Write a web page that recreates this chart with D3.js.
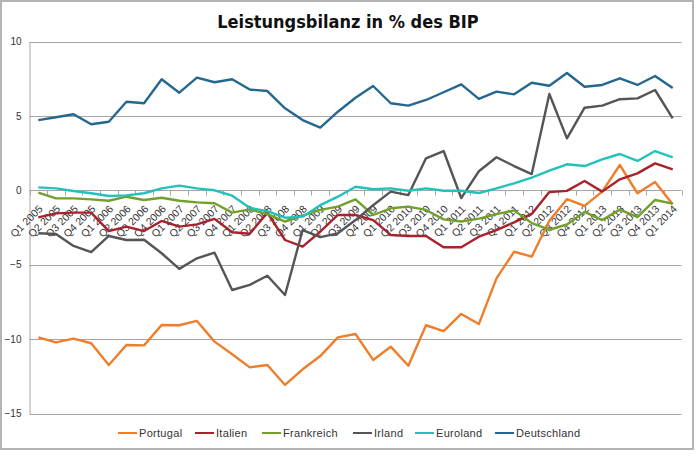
<!DOCTYPE html>
<html>
<head>
<meta charset="utf-8">
<script src="https://cdn.jsdelivr.net/npm/d3@7"></script>
<style>
  html, body { margin: 0; padding: 0; background: #fff; }
  svg { display: block; }
</style>
</head>
<body>
<svg id="chart" width="700" height="456"></svg>
<script>
const title = "Leistungsbilanz in % des BIP";
const categories = [
  "Q1 2005","Q2 2005","Q3 2005","Q4 2005",
  "Q1 2006","Q2 2006","Q3 2006","Q4 2006",
  "Q1 2007","Q2 2007","Q3 2007","Q4 2007",
  "Q1 2008","Q2 2008","Q3 2008","Q4 2008",
  "Q1 2009","Q2 2009","Q3 2009","Q4 2009",
  "Q1 2010","Q2 2010","Q3 2010","Q4 2010",
  "Q1 2011","Q2 2011","Q3 2011","Q4 2011",
  "Q1 2012","Q2 2012","Q3 2012","Q4 2012",
  "Q1 2013","Q2 2013","Q3 2013","Q4 2013",
  "Q1 2014"
];
const yTicks = [10, 5, 0, -5, -10, -15];
const seriesNames = ["Portugal", "Italien", "Frankreich", "Irland", "Euroland", "Deutschland"];
const seriesColors = ["#EE7E2C", "#A8222B", "#73A02A", "#555555", "#22C2BB", "#24678F"];

const portugal = [-9.88,-10.22,-9.97,-10.28,-11.74,-10.40,-10.42,-9.05,-9.07,-8.78,-10.17,-11.02,-11.90,-11.74,-13.08,-12.03,-11.14,-9.88,
  -9.66,-11.40,-10.51,-11.79,-9.07,-9.46,-8.31,-8.99,-5.92,-4.13,-4.46,
  -2.05,-0.60,-1.05,-0.09,1.70,-0.20,0.56,-0.93];
const italien = [-1.82,-1.55,-1.50,-1.50,-2.74,-2.44,-2.74,-2.06,-2.44,-2.29,-1.92,-2.82,-2.92,
  -1.50,-3.34,-3.79,-2.78,-1.66,-1.66,-2.00,-3.00,-3.07,-3.07,-3.83,-3.83,
  -3.12,-2.67,-2.15,-1.59,-0.12,-0.04,0.62,-0.09,0.74,1.14,1.81,1.41];
const frankreich = [-0.16,-0.54,-0.54,-0.61,-0.70,-0.43,-0.65,-0.50,-0.70,-0.81,-0.87,-1.50,-1.28,
  -1.60,-2.10,-1.70,-1.32,-1.10,-0.61,-1.66,-1.21,-1.10,-1.32,-1.95,-2.10,
  -1.90,-1.60,-1.35,-2.20,-2.65,-2.30,-1.45,-2.00,-1.30,-1.80,-0.65,-0.90];
const irland = [-2.89,-2.94,-3.74,-4.15,-3.07,-3.34,-3.32,-4.23,-5.28,-4.57,-4.19,-6.70,-6.36,-5.74,-7.04,
  -2.67,-3.15,-2.89,-2.00,-1.00,-0.09,-0.32,2.15,2.64,-0.52,
  1.28,2.22,1.63,1.09,6.47,3.49,5.55,5.69,6.12,6.18,6.74,4.84];
const euroland = [0.20,0.13,-0.05,-0.20,-0.38,-0.34,-0.20,0.13,0.31,0.13,0.00,-0.36,-1.18,
  -1.40,-1.84,-1.77,-1.00,-0.43,0.24,0.07,0.13,-0.03,0.13,-0.03,-0.03,
  -0.18,0.13,0.47,0.85,1.32,1.75,1.63,2.08,2.44,1.97,2.64,2.22];
const deutschland = [4.72,4.91,5.11,4.44,4.61,5.95,5.85,7.46,6.56,7.57,7.26,7.46,6.77,
  6.67,5.51,4.72,4.21,5.28,6.22,7.01,5.85,5.69,6.07,6.59,7.12,
  6.14,6.63,6.45,7.23,7.03,7.88,6.96,7.08,7.53,7.08,7.68,6.88];

const seriesValues = [portugal, italien, frankreich, irland, euroland, deutschland];

const svg = d3.select("#chart");
const plot = { left: 29.5, right: 681.5, top: 41.5, bottom: 413.5 };

// outer frame
svg.append("rect")
  .attr("x", 1).attr("y", 1).attr("width", 692).attr("height", 448)
  .attr("fill", "#fff").attr("stroke", "#b4b4b4").attr("stroke-width", 2);

// title
svg.append("text")
  .attr("x", 348).attr("y", 28)
  .attr("text-anchor", "middle")
  .attr("font-family", "'Liberation Sans Narrow', 'DejaVu Sans Condensed', 'Liberation Sans', sans-serif")
  .attr("font-weight", "bold")
  .attr("font-size", 18)
  .attr("fill", "#111")
  .text(title);

const x = d3.scaleBand().domain(categories).range([plot.left, plot.right]).paddingInner(0).paddingOuter(0);
const y = d3.scaleLinear().domain([-15, 10]).range([plot.bottom, plot.top]);
const cx = d => x(d) + x.bandwidth() / 2;

// gridlines
svg.append("g")
  .selectAll("line").data(yTicks).join("line")
  .attr("x1", plot.left).attr("x2", plot.right)
  .attr("y1", d => Math.round(y(d)) + 0.5).attr("y2", d => Math.round(y(d)) + 0.5)
  .attr("stroke", "#a6a6a6").attr("stroke-width", 1);

// y axis
const yAxis = d3.axisLeft(y).tickValues(yTicks).tickSize(0).tickPadding(8).tickFormat(d3.format("d"));
const gy = svg.append("g").attr("transform", `translate(${plot.left},0)`).call(yAxis);
gy.select(".domain").attr("stroke", "#a6a6a6");
gy.selectAll("text")
  .attr("font-family", "'Liberation Sans', Arial, sans-serif")
  .attr("font-size", 10).attr("fill", "#333");

// x axis at zero
const y0 = Math.round(y(0)) + 0.5;
const xAxis = d3.axisBottom(x).tickSize(0).tickFormat(d => d);
const gx = svg.append("g").attr("transform", `translate(0,${y0})`).call(xAxis);
gx.select(".domain").remove();
gx.selectAll(".tick text")
  .attr("font-family", "'Liberation Sans', Arial, sans-serif")
  .attr("font-size", 10.5).attr("fill", "#333")
  .attr("text-anchor", "end")
  .attr("dy", 0).attr("y", 0)
  .attr("transform", "translate(5,19) rotate(-45)");
// category boundary ticks
const bounds = categories.map(c => x(c)).concat([plot.right]);
svg.append("g").selectAll("line").data(bounds).join("line")
  .attr("x1", d => Math.round(d) + 0.5).attr("x2", d => Math.round(d) + 0.5)
  .attr("y1", y0).attr("y2", y0 + 5)
  .attr("stroke", "#a6a6a6").attr("stroke-width", 1);

// lines
const line = d3.line().x((d, i) => cx(categories[i])).y(d => y(d));
svg.append("g").selectAll("path").data(seriesValues).join("path")
  .attr("d", d => line(d))
  .attr("fill", "none")
  .attr("stroke", (d, i) => seriesColors[i])
  .attr("stroke-width", 2.4)
  .attr("stroke-linejoin", "round");

// legend
const legendX = [118, 195, 262, 353, 415, 495];
const lg = svg.append("g");
seriesNames.forEach((name, i) => {
  lg.append("line")
    .attr("x1", legendX[i]).attr("x2", legendX[i] + 19)
    .attr("y1", 433).attr("y2", 433)
    .attr("stroke", seriesColors[i]).attr("stroke-width", 2);
  lg.append("text")
    .attr("x", legendX[i] + 21).attr("y", 437)
    .attr("font-family", "'Liberation Sans', Arial, sans-serif")
    .attr("font-size", 11).attr("letter-spacing", 0.3).attr("fill", "#333")
    .text(name);
});
</script>
</body>
</html>
